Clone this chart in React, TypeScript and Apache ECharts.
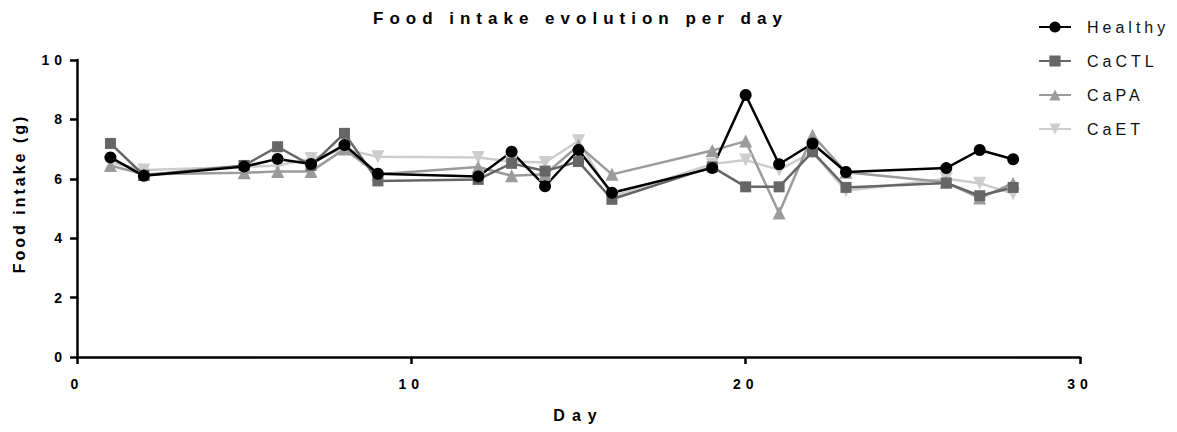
import React, { useEffect, useRef } from "react";
import * as echarts from "echarts";

const days = [1, 2, 5, 6, 7, 8, 9, 12, 13, 14, 15, 16, 19, 20, 21, 22, 23, 26, 27, 28];
const healthy = [6.72, 6.1, 6.41, 6.67, 6.5, 7.14, 6.17, 6.08, 6.91, 5.75, 6.97, 5.53, 6.36, 8.82, 6.49, 7.19, 6.23, 6.36, 6.97, 6.66];
const caCTL = [7.19, 6.12, 6.45, 7.08, 6.45, 7.53, 5.93, 5.98, 6.52, 6.26, 6.58, 5.31, 6.4, 5.73, 5.73, 6.91, 5.71, 5.86, 5.43, 5.71];
const caPA = [6.45, 6.15, 6.2, 6.25, 6.25, 7.0, 6.15, 6.4, 6.1, 6.15, 7.12, 6.15, 6.95, 7.27, 4.85, 7.47, 6.22, 5.88, 5.35, 5.85];
const caET = [6.55, 6.3, 6.4, 6.45, 6.68, 7.0, 6.74, 6.72, 6.58, 6.55, 7.28, 5.4, 6.5, 6.63, 6.3, 6.9, 5.6, 6.0, 5.85, 5.5];
const legendNames = ["Healthy", "CaCTL", "CaPA", "CaET"];
const xTicks = { min: 0, max: 30, interval: 10 };
const yTicks = { min: 0, max: 10, interval: 2 };

const FT = "'Liberation Sans', Helvetica";
const FX = "'Liberation Sans', Arial";
const FY = "'Liberation Sans', Verdana";
const FL = "'Liberation Sans', sans-serif";
const FK = "'Liberation Sans', Tahoma";

const css = `
.fic text[style*="Helvetica"] { letter-spacing: 6px; }
.fic text[style*="Arial"] { letter-spacing: 7px; }
.fic text[style*="Verdana"] { letter-spacing: 3px; }
.fic text[style*="sans-serif"] { letter-spacing: 4px; }
.fic text[style*="Tahoma"] { letter-spacing: 5px; }
`;

const downTri = "path://M0,0 L10,0 L5,9 Z";

export default function App() {
  const ref = useRef<HTMLDivElement>(null);
  useEffect(() => {
    const chart = echarts.init(ref.current!, null, { renderer: "svg" });
    const mk = (name: string, vals: number[], color: string, symbol: string, size: number) => ({
      name,
      type: "line",
      data: days.map((d, i) => [d, vals[i]]),
      symbol,
      symbolSize: size,
      showAllSymbol: true,
      color,
      lineStyle: { width: 2.5, color },
      itemStyle: { color },
      emphasis: { disabled: true },
    });
    chart.setOption({
      animation: false,
      backgroundColor: "#fff",
      title: {
        text: "Food intake evolution per day",
        left: 373,
        top: 10,
        padding: 0,
        textStyle: { fontSize: 17, fontWeight: "bold", color: "#000", fontFamily: FT },
      },
      legend: {
        orient: "vertical",
        left: 1038,
        top: 19,
        padding: 0,
        itemWidth: 32,
        itemHeight: 14,
        itemGap: 18,
        data: legendNames,
        textStyle: { fontSize: 16, color: "#111", fontFamily: FL, padding: [0, 0, 0, 11], lineHeight: 16 },
      },
      grid: { left: 77, right: 97, top: 60, bottom: 75, containLabel: false },
      xAxis: {
        type: "value",
        ...xTicks,
        name: "Day",
        nameLocation: "middle",
        nameGap: 50,
        nameTextStyle: { fontSize: 16, fontWeight: "bold", color: "#000", fontFamily: FX },
        axisLine: { show: true, lineStyle: { color: "#000", width: 2.5 } },
        axisTick: { show: true, length: 7, lineStyle: { color: "#000", width: 2.5 } },
        axisLabel: { fontSize: 14, fontWeight: "bold", color: "#000", fontFamily: FK, margin: 20 },
        splitLine: { show: false },
      },
      yAxis: {
        type: "value",
        ...yTicks,
        name: "Food intake (g)",
        nameLocation: "middle",
        nameGap: 50,
        nameRotate: 90,
        nameTextStyle: { fontSize: 16, fontWeight: "bold", color: "#000", fontFamily: FY, padding: [0, 0, 0, 30] },
        axisLine: { show: true, lineStyle: { color: "#000", width: 2.5 } },
        axisTick: { show: true, length: 7, lineStyle: { color: "#000", width: 2.5 } },
        axisLabel: { fontSize: 14, fontWeight: "bold", color: "#000", fontFamily: FK, margin: 10 },
        splitLine: { show: false },
      },
      series: [
        mk("CaET", caET, "#cdcdcd", downTri, 13),
        mk("CaPA", caPA, "#9b9b9b", "triangle", 13),
        mk("CaCTL", caCTL, "#666666", "rect", 11),
        mk("Healthy", healthy, "#000000", "circle", 12),
      ],
    });
    return () => chart.dispose();
  }, []);
  return (
    <>
      <style>{css}</style>
      <div
        className="fic"
        ref={ref}
        style={{ position: "fixed", left: 0, top: 0, width: 1177, height: 432, background: "#fff" }}
      />
    </>
  );
}
